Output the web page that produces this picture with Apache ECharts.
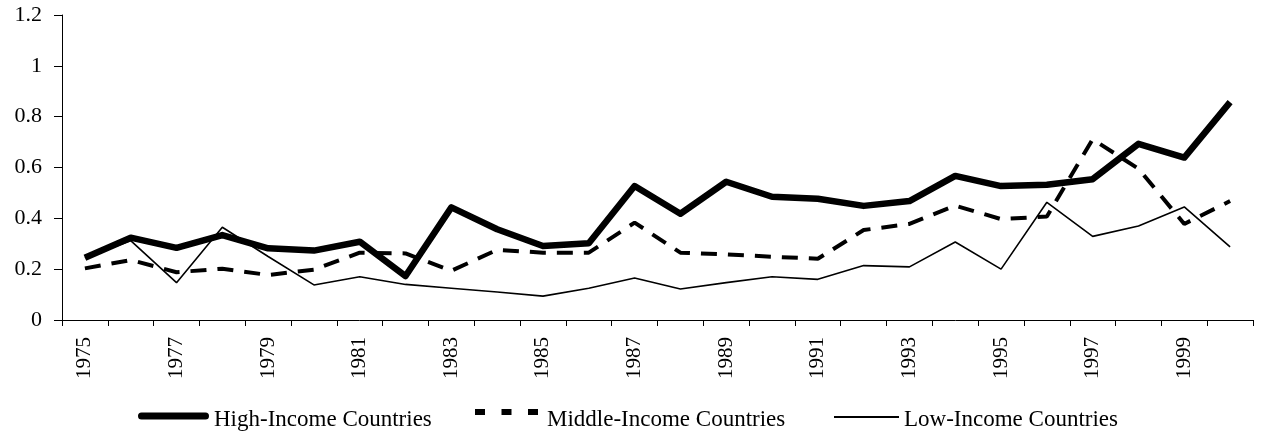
<!DOCTYPE html>
<html>
<head>
<meta charset="utf-8">
<script src="https://cdn.jsdelivr.net/npm/echarts@6/dist/echarts.min.js"></script>
<style>html,body{margin:0;padding:0;background:#fff;}#c{width:1267px;height:432px;}</style>
</head>
<body>
<div id="c"></div>
<script>
const years = ['1975','1976','1977','1978','1979','1980','1981','1982','1983','1984','1985','1986','1987','1988','1989','1990','1991','1992','1993','1994','1995','1996','1997','1998','1999','2000'];
const highIncome = [0.245,0.324,0.284,0.334,0.282,0.273,0.308,0.173,0.443,0.357,0.291,0.302,0.527,0.418,0.544,0.485,0.477,0.449,0.468,0.567,0.527,0.532,0.554,0.693,0.639,0.857];
const middleIncome = [0.203,0.236,0.188,0.202,0.177,0.198,0.265,0.262,0.194,0.276,0.265,0.265,0.383,0.265,0.258,0.249,0.241,0.354,0.378,0.450,0.397,0.407,0.711,0.595,0.378,0.468];
const lowIncome = [0.245,0.312,0.147,0.365,0.250,0.138,0.170,0.140,0.125,0.110,0.094,0.125,0.165,0.122,0.147,0.170,0.160,0.214,0.209,0.307,0.200,0.463,0.329,0.370,0.445,0.288];
const seriesNames = ['High-Income Countries','Middle-Income Countries','Low-Income Countries'];

const font = '"Liberation Serif", "Times New Roman", serif';
function legendText(padLeft) {
  return {fontFamily: font, fontSize: 23, color: '#000', padding: [0, 0, 0, padLeft]};
}
const legendTop = 408;
const chart = echarts.init(document.getElementById('c'), null, {renderer: 'canvas'});
chart.setOption({
  animation: false,
  backgroundColor: '#fff',
  grid: {left: 62, right: 14, top: 15, bottom: 112},
  legend: [
    {data: [seriesNames[0]], left: 138, top: legendTop, padding: 0, itemWidth: 71, itemHeight: 14,
     icon: 'path://M3.5,0h64a3.5,3.5 0 0 1 0,7h-64a3.5,3.5 0 0 1 0,-7z M0,14L0.01,14L0,14z',
     itemStyle: {color: '#000'}, textStyle: legendText(0)},
    {data: [seriesNames[1]], left: 475, top: legendTop, padding: 0, itemWidth: 63, itemHeight: 21,
     icon: 'path://M0,0h10v6h-10z M26.5,0h10v6h-10z M53,0h10v6h-10z M0,21L0.01,21L0,21z',
     itemStyle: {color: '#000'}, textStyle: legendText(4)},
    {data: [seriesNames[2]], left: 834, top: legendTop, padding: 0, itemWidth: 65, itemHeight: 7,
     icon: 'path://M0,0h65v2h-65z M0,7L0.01,7L0,7z',
     itemStyle: {color: '#000'}, textStyle: legendText(0)}
  ],
  xAxis: {
    type: 'category',
    data: years,
    boundaryGap: true,
    axisLine: {lineStyle: {color: '#000', width: 1}},
    axisTick: {show: true, interval: 0, length: 6, lineStyle: {color: '#000'}},
    axisLabel: {interval: 1, rotate: 90, fontFamily: font, fontSize: 21, color: '#000', margin: 17}
  },
  yAxis: {
    type: 'value',
    min: 0, max: 1.2, interval: 0.2,
    axisLine: {show: true, lineStyle: {color: '#000', width: 1}},
    axisTick: {show: true, length: 8, lineStyle: {color: '#000'}},
    splitLine: {show: false},
    axisLabel: {fontFamily: font, fontSize: 22, color: '#000', margin: 20}
  },
  series: [
    {name: seriesNames[0], type: 'line', data: highIncome, symbol: 'none', z: 3,
     lineStyle: {color: '#000', width: 6.5, join: 'round'}, itemStyle: {color: '#000'}},
    {name: seriesNames[1], type: 'line', data: middleIncome, symbol: 'none', z: 2,
     lineStyle: {color: '#000', width: 4, type: [16, 11]}, itemStyle: {color: '#000'}},
    {name: seriesNames[2], type: 'line', data: lowIncome, symbol: 'none', z: 1,
     lineStyle: {color: '#000', width: 1.6}, itemStyle: {color: '#000'}}
  ]
});
</script>
</body>
</html>
